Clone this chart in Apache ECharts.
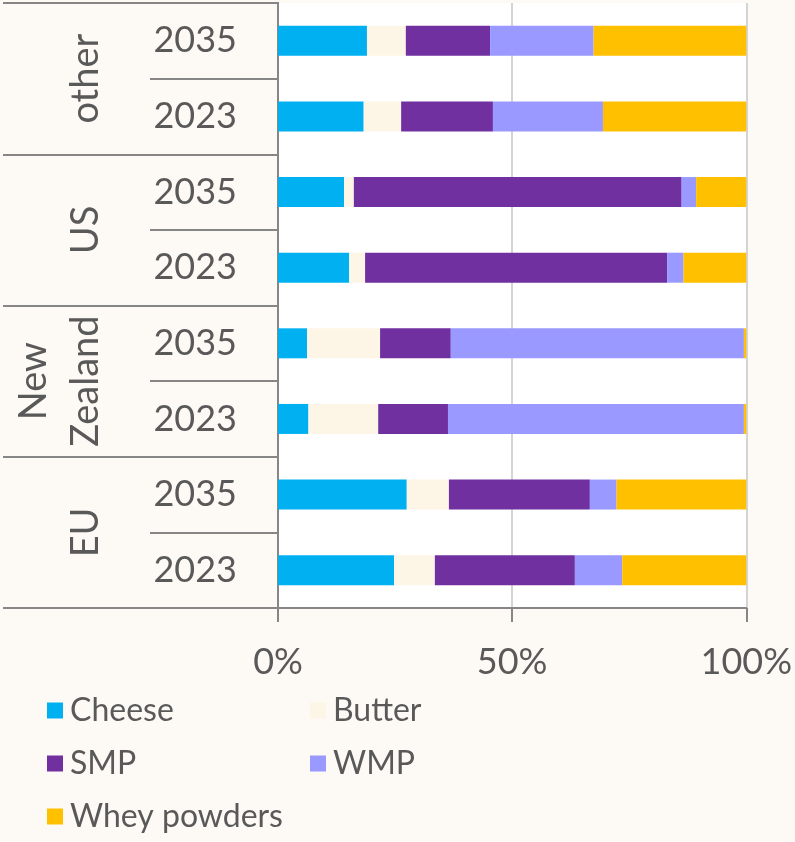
<!DOCTYPE html>
<html>
<head>
<meta charset="utf-8">
<script src="https://cdn.jsdelivr.net/npm/echarts@6/dist/echarts.min.js"></script>
<style>
  html, body { margin: 0; padding: 0; background: #fdfaf5; }
  #main { width: 795px; height: 842px; }
</style>
</head>
<body>
<div id="main"></div>
<script>
// rows from bottom to top
var years = ['2023', '2035', '2023', '2035', '2023', '2035', '2023', '2035'];
var groups = ['EU', 'New\nZealand', 'US', 'other'];

// shares in %, same order as years
var cheese = [24.8, 27.5, 6.5, 6.2, 15.2, 14.1, 18.3, 19.0];
var butter = [8.7, 9.0, 14.9, 15.6, 3.4, 2.1, 8.0, 8.3];
var smp = [29.9, 30.1, 14.9, 15.1, 64.5, 70.0, 19.6, 18.0];
var wmp = [10.1, 5.7, 63.2, 62.6, 3.5, 3.1, 23.5, 22.1];
var whey = [26.5, 27.7, 0.5, 0.5, 13.4, 10.7, 30.6, 32.6];

var xTicks = [0, 50, 100];

var myChart = echarts.init(document.getElementById('main'));

var font = 'Lato';
var textCol = '#595959';
var axisCol = '#868686';

function bar(name, data, color) {
  return {
    name: name,
    type: 'bar',
    stack: 'all',
    barWidth: 30,
    data: data,
    itemStyle: { color: color },
    emphasis: { disabled: true }
  };
}

var legendBase = {
  top: 689,
  orient: 'vertical',
  padding: 0,
  itemWidth: 16,
  itemHeight: 16,
  itemGap: 10,
  icon: 'rect',
  textStyle: { fontFamily: font, fontSize: 32, lineHeight: 43, color: textCol, padding: [0, 0, 0, 2] }
};

option = {
  backgroundColor: '#fdfaf5',
  animation: false,
  grid: {
    left: 278,
    right: 48,
    top: 3,
    bottom: 234,
    show: true,
    backgroundColor: '#ffffff',
    borderWidth: 0
  },
  legend: [
    Object.assign({ left: 47, data: ['Cheese', 'SMP', 'Whey powders'] }, legendBase),
    Object.assign({ left: 310, data: ['Butter', 'WMP'] }, legendBase)
  ],
  xAxis: {
    type: 'value',
    min: 0,
    max: 100,
    interval: 50,
    axisLine: { show: true, lineStyle: { color: axisCol, width: 2 } },
    axisTick: { show: true, length: 14, lineStyle: { color: axisCol, width: 2 } },
    axisLabel: {
      margin: 36,
      fontFamily: font,
      fontSize: 36,
      color: textCol,
      formatter: function (v) { return xTicks.indexOf(v) >= 0 ? v + '%' : ''; }
    },
    splitLine: { show: true, lineStyle: { color: '#d4d4d4', width: 2 } }
  },
  yAxis: [
    {
      type: 'category',
      data: years,
      position: 'left',
      axisLine: { show: true, lineStyle: { color: axisCol, width: 2 } },
      axisTick: { show: true, interval: 0, length: 128, lineStyle: { color: axisCol, width: 2 } },
      axisLabel: { interval: 0, margin: 41, fontFamily: font, fontSize: 36, color: textCol }
    },
    {
      type: 'category',
      data: groups,
      position: 'left',
      axisLine: { show: true, lineStyle: { color: axisCol, width: 2 } },
      axisTick: { show: true, interval: 0, length: 275, lineStyle: { color: axisCol, width: 2 } },
      axisLabel: {
        interval: 0,
        rotate: 90,
        margin: 166,
        fontFamily: font,
        fontSize: 38,
        lineHeight: 52,
        color: textCol
      }
    }
  ],
  series: [
    bar('Cheese', cheese, '#00b0f0'),
    bar('Butter', butter, '#fdf5e6'),
    bar('SMP', smp, '#7030a0'),
    bar('WMP', wmp, '#9999ff'),
    bar('Whey powders', whey, '#ffc000')
  ]
};

myChart.setOption(option);
</script>
</body>
</html>
